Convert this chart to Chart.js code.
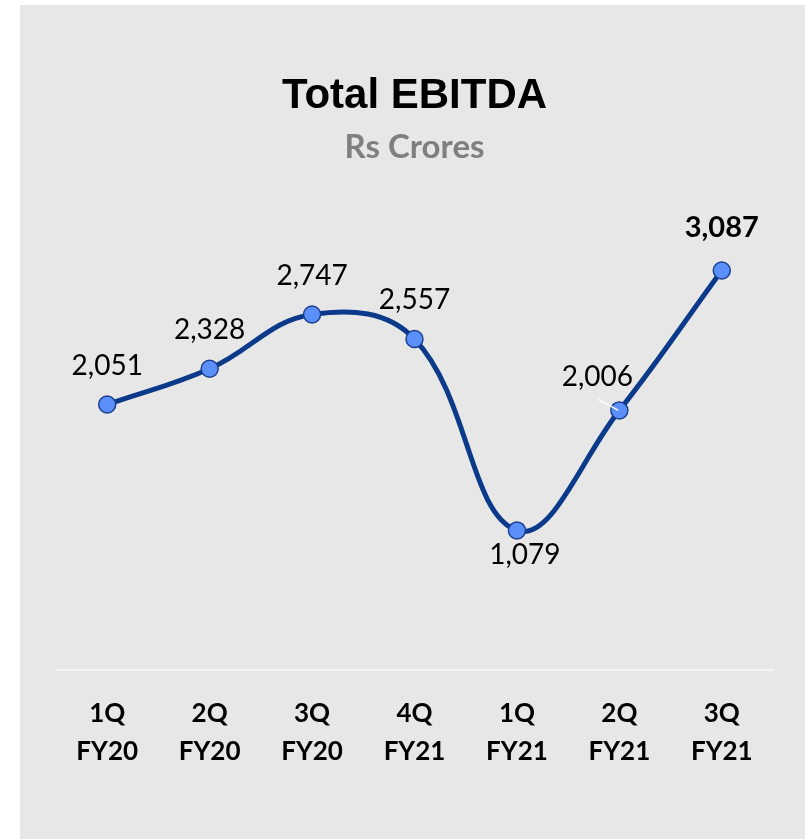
<!DOCTYPE html>
<html>
<head>
<meta charset="utf-8">
<script src="https://cdn.jsdelivr.net/npm/chart.js@4.4.1/dist/chart.umd.min.js"></script>
<style>
  body { margin: 0; background: #ffffff; }
  #panel { position: absolute; left: 20px; top: 5px; width: 785px; height: 834px; background: #e7e7e7; }
  #panel canvas { display: block; }
</style>
</head>
<body>
<div id="panel"><canvas id="my-chart" width="785" height="834"></canvas></div>
<script>
// quarters and EBITDA (Rs Crores)
const quarters = [['1Q', 'FY20'], ['2Q', 'FY20'], ['3Q', 'FY20'], ['4Q', 'FY21'], ['1Q', 'FY21'], ['2Q', 'FY21'], ['3Q', 'FY21']];
const ebitda = [2051, 2328, 2747, 2557, 1079, 2006, 3087];
const valueLabels = ['2,051', '2,328', '2,747', '2,557', '1,079', '2,006', '3,087'];

// draws the value labels next to each point
const pointLabels = {
   id: 'pointLabels',
   afterDatasetsDraw(chart) {
      const ctx = chart.ctx;
      const meta = chart.getDatasetMeta(0);
      ctx.save();
      ctx.textAlign = 'center';
      ctx.textBaseline = 'middle';
      ctx.fillStyle = '#000000';
      meta.data.forEach((pt, i) => {
         let x = pt.x, y = pt.y - 39;
         ctx.font = '28px Lato';
         if (i === 4) { x = pt.x + 8; y = pt.y + 25; }
         if (i === 5) {
            x = pt.x - 22; y = pt.y - 33;
            // small leader line
            ctx.strokeStyle = '#ffffff';
            ctx.lineWidth = 1.5;
            ctx.beginPath();
            ctx.moveTo(pt.x - 21, pt.y - 11);
            ctx.lineTo(pt.x - 1, pt.y);
            ctx.stroke();
         }
         if (i === 6) { y = pt.y - 43; ctx.font = 'bold 29px Lato'; }
         ctx.fillText(valueLabels[i], x, y);
      });
      ctx.restore();
   }
};

const ctx = document.getElementById('my-chart').getContext('2d');

const chart = new Chart(ctx, {
   type: 'line',
   data: {
      labels: quarters,
      datasets: [
      {
         label: 'Total EBITDA',
         data: ebitda,
         borderColor: '#0b3a8a',
         borderWidth: 5,
         tension: 0.4,
         pointRadius: 8.5,
         pointBackgroundColor: '#5b8ff9',
         pointBorderColor: '#1d3f8f',
         pointBorderWidth: 1.5,
         clip: false
      }
      ]
   },
   options: {
      responsive: false,
      animation: false,
      layout: { padding: { left: 36, right: 32, top: 0, bottom: 43 } },
      plugins: {
         legend: { display: false },
         tooltip: { enabled: false },
         title: {
            display: true,
            text: 'Total EBITDA',
            color: '#000000',
            font: { family: '"Liberation Sans", Arial', size: 42, weight: 'bold' },
            padding: { top: 66, bottom: 0 }
         },
         subtitle: {
            display: true,
            text: 'Rs Crores',
            color: '#7f7f7f',
            font: { family: 'Lato', size: 33, weight: 'bold' },
            padding: { top: 6, bottom: 50 }
         }
      },
      scales: {
         x: {
            offset: true,
            grid: { display: false, drawTicks: false },
            border: { display: true, color: '#f4f4f4', width: 2 },
            ticks: {
               color: '#000000',
               padding: 25,
               font: { family: 'Lato', size: 26, weight: 'bold', lineHeight: 1.46 }
            }
         },
         y: {
            display: false,
            min: 0,
            max: 3500
         }
      }
   },
   plugins: [pointLabels]
}); //closes chart = new Chart()
</script>
</body>
</html>
